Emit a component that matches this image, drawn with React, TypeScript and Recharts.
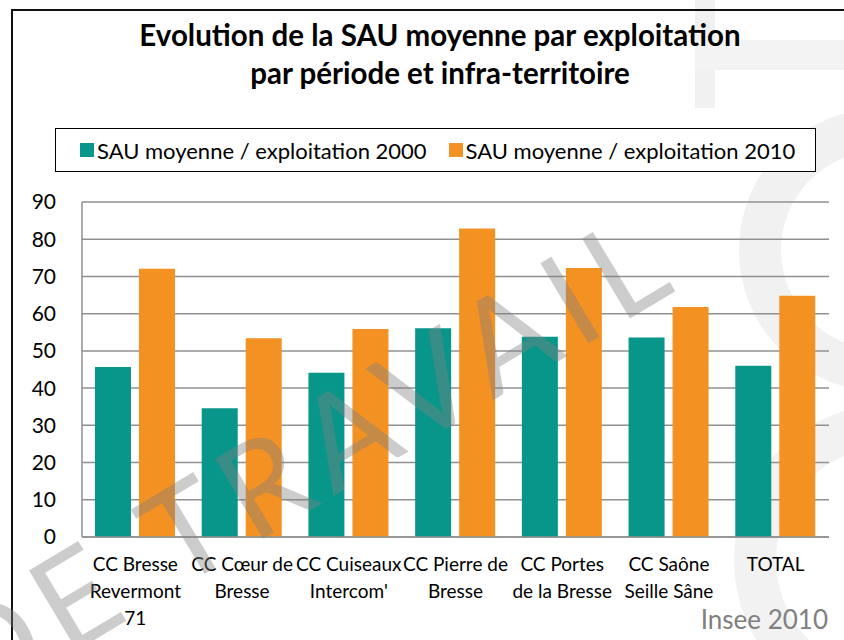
import { BarChart, Bar, XAxis, YAxis, CartesianGrid } from 'recharts'

const territoires = [
  'CC Bresse Revermont 71',
  'CC Cœur de Bresse',
  "CC Cuiseaux Intercom'",
  'CC Pierre de Bresse',
  'CC Portes de la Bresse',
  'CC Saône Seille Sâne',
  'TOTAL',
]
const tickLabels = [
  ['CC Bresse', 'Revermont', '71'],
  ['CC Cœur de', 'Bresse'],
  ['CC Cuiseaux', "Intercom'"],
  ['CC Pierre de', 'Bresse'],
  ['CC Portes', 'de la Bresse'],
  ['CC Saône', 'Seille Sâne'],
  ['TOTAL'],
]
const sau2000 = [45.7, 34.6, 44.1, 56.1, 53.8, 53.6, 46.0]
const sau2010 = [72.1, 53.4, 55.9, 82.9, 72.3, 61.8, 64.8]
const yTicks = [0, 10, 20, 30, 40, 50, 60, 70, 80, 90]
const legendLabels = ['SAU moyenne / exploitation 2000', 'SAU moyenne / exploitation 2010']

const TEAL = '#09968A'
const ORANGE = '#F39223'
const GRID = '#909090'
const FONT = 'Lato, "Open Sans", sans-serif'

const data = territoires.map((name, i) => ({
  name,
  v2000: sau2000[i],
  v2010: sau2010[i],
}))

function CategoryTick(props: any) {
  const { x, y, index } = props
  const lines = tickLabels[index] || []
  return (
    <text x={x} y={y} textAnchor="middle" fill="#000" fontSize={19} fontFamily={FONT}>
      {lines.map((l, i) => (
        <tspan key={i} x={x} dy={i === 0 ? 26 : 27}>
          {l}
        </tspan>
      ))}
    </text>
  )
}

export default function App() {
  const colors = [TEAL, ORANGE]
  return (
    <div style={{ position: 'absolute', left: 0, top: 0, width: 844, height: 640, overflow: 'hidden', background: '#fff' }}>
      {/* faint logo shapes in the background */}
      <svg width={844} height={640} style={{ position: 'absolute', left: 0, top: 0 }}>
        <rect x={695} y={0} width={20} height={108} fill="#f1f1f1" />
        <rect x={695} y={40} width={149} height={30} fill="#f3f3f3" />
        <circle cx={880} cy={250} r={120} fill="none" stroke="#f1f1f1" strokeWidth={42} />
        <circle cx={890} cy={560} r={135} fill="none" stroke="#f2f2f2" strokeWidth={42} />
      </svg>
      <div
        style={{
          position: 'absolute',
          left: 11,
          top: 9,
          width: 860,
          height: 660,
          border: '2px solid #111',
        }}
      />
      <div
        style={{
          position: 'absolute',
          left: 40,
          width: 800,
          top: 16,
          textAlign: 'center',
          fontFamily: FONT,
          fontWeight: 'bold',
          fontSize: 29.5,
          lineHeight: '38px',
        }}
      >
        Evolution de la SAU moyenne par exploitation
        <br />
        par période et infra-territoire
      </div>
      <div
        style={{
          position: 'absolute',
          left: 55,
          top: 128,
          boxSizing: 'border-box',
          width: 761,
          height: 44,
          border: '1.5px solid #000',
          display: 'flex',
          alignItems: 'center',
          paddingLeft: 24,
          fontFamily: FONT,
          fontSize: 22,
          background: '#fff',
        }}
      >
        {legendLabels.map((label, i) => (
          <div key={i} style={{ display: 'flex', alignItems: 'center', marginRight: i === 0 ? 22 : 0 }}>
            <span style={{ width: 14, height: 14, background: colors[i], display: 'inline-block', marginRight: 3 }} />
            <span>{label}</span>
          </div>
        ))}
      </div>
      <div style={{ position: 'absolute', left: 0, top: 0 }}>
        <BarChart
          width={844}
          height={640}
          data={data}
          margin={{ top: 202, right: 15, left: 0, bottom: 0 }}
          barSize={36}
          barGap={8}
        >
          <CartesianGrid vertical={false} stroke={GRID} strokeWidth={1.5} />
          <XAxis
            dataKey="name"
            tick={<CategoryTick />}
            tickLine={false}
            axisLine={{ stroke: GRID, strokeWidth: 1.5 }}
            interval={0}
            height={103}
          />
          <YAxis
            domain={[0, 90]}
            ticks={yTicks}
            interval={0}
            width={82}
            tickLine={false}
            tickSize={0}
            tickMargin={26}
            axisLine={{ stroke: GRID, strokeWidth: 1.5 }}
            tick={{ fill: '#000', fontSize: 21, fontFamily: FONT }}
          />
          <Bar dataKey="v2000" name={legendLabels[0]} fill={TEAL} isAnimationActive={false} />
          <Bar dataKey="v2010" name={legendLabels[1]} fill={ORANGE} isAnimationActive={false} />
        </BarChart>
      </div>
      <div
        style={{
          position: 'absolute',
          right: 16,
          top: 603,
          fontFamily: FONT,
          fontSize: 26,
          lineHeight: '32px',
          color: '#808080',
        }}
      >
        Insee 2010
      </div>
      <svg width={844} height={640} style={{ position: 'absolute', left: 0, top: 0, pointerEvents: 'none' }}>
        <text
          x={689}
          y={290}
          transform="rotate(-31 677 290)"
          textAnchor="end"
          fontFamily={FONT}
          fontSize={130}
          fill="#808080"
          fillOpacity={0.4}
          letterSpacing={12}
        >
          DE TRAVAIL
        </text>
      </svg>
    </div>
  )
}
